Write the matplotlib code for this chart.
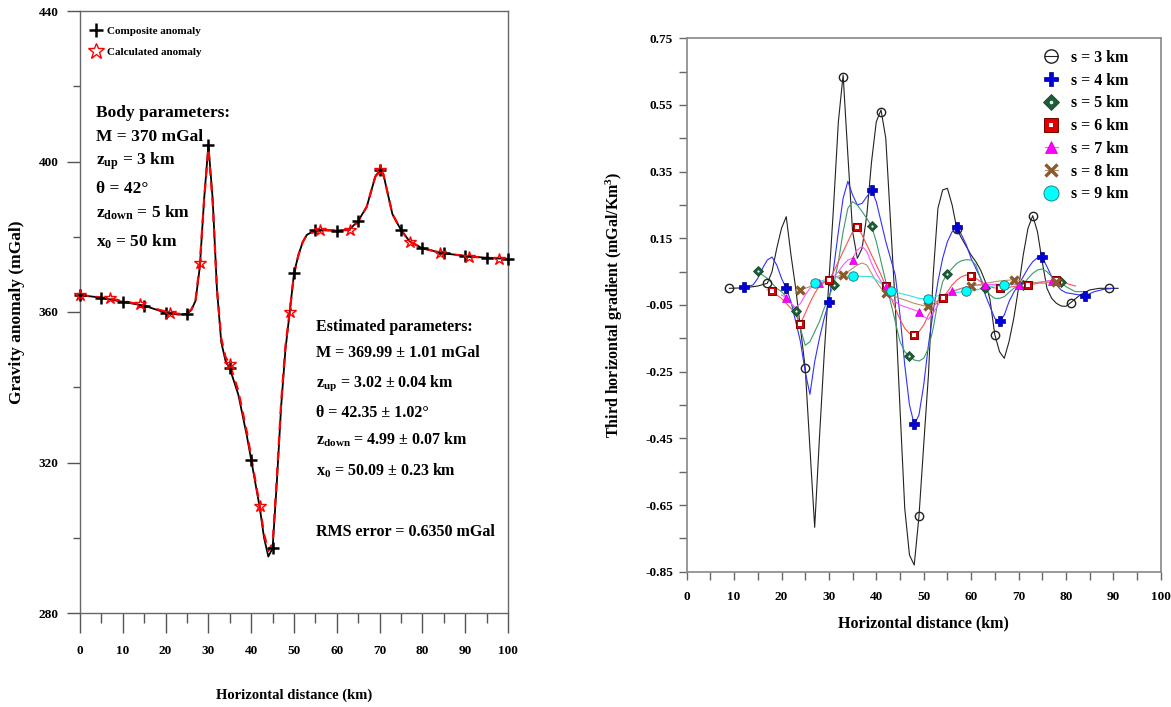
import matplotlib
matplotlib.use('Agg')
import matplotlib.pyplot as plt
from matplotlib.lines import Line2D

plt.rcParams['font.family'] = ['Liberation Serif', 'DejaVu Serif']
plt.rcParams['font.weight'] = 'bold'
plt.rcParams['mathtext.fontset'] = 'custom'
plt.rcParams['mathtext.rm'] = 'Liberation Serif:bold'
plt.rcParams['mathtext.it'] = 'Liberation Serif:bold'
plt.rcParams['mathtext.bf'] = 'Liberation Serif:bold'
plt.rcParams['axes.unicode_minus'] = False

# ---------------- left panel: gravity anomaly ----------------
comp_x = [0, 5, 10, 15, 20, 25, 30, 35, 40, 45, 50, 55, 60, 65, 70, 75, 80, 85, 90, 95, 100]
comp_y = [364.5, 363.8, 362.7, 361.7, 359.8, 359.5, 404.4, 345.0, 320.7, 297.2, 370.3,
          381.8, 381.6, 384.2, 397.7, 381.8, 376.9, 375.6, 374.9, 374.4, 374.1]
calc_x = [0, 7, 14, 21, 28, 35, 42, 49, 56, 63, 70, 77, 84, 91, 98]
calc_y = [364.5, 363.6, 362.0, 359.8, 372.9, 346.1, 308.5, 360.1, 381.8, 381.8, 397.7,
          378.7, 375.8, 374.7, 374.2]

comp_line_x = [0, 5, 10, 15, 20, 23, 25, 26, 27, 28, 29, 30, 31, 32, 33, 34, 35, 37, 39, 40,
               42, 43, 44, 45, 46, 47, 48, 49, 50, 51, 52, 53, 55, 60, 63, 65, 67, 68, 69,
               70, 71, 72, 73, 75, 77, 80, 85, 90, 95, 100]
comp_line_y = [364.5, 363.8, 362.7, 361.7, 359.8, 359.3, 359.5, 360.5, 363, 372, 390, 404.4,
               390, 366, 352, 347, 345, 338, 327, 320.7, 308, 300, 295, 297.2, 315, 335, 350,
               360, 370.3, 375, 378.5, 380.5, 381.8, 381.6, 382, 384.2, 388, 392, 396, 397.7,
               396, 391, 386, 381.8, 378.8, 376.9, 375.6, 374.9, 374.4, 374.1]
calc_line_x = [0, 7, 14, 21, 24, 26, 27, 28, 29, 30, 31, 32, 33, 34, 35, 37, 39, 40, 42, 43,
               44, 45, 46, 47, 48, 49, 50, 51, 52, 53, 56, 60, 63, 65, 67, 68, 69, 70, 71, 72,
               73, 75, 77, 80, 84, 91, 98, 100]
calc_line_y = [364.5, 363.6, 362.0, 359.8, 359.4, 360.6, 363.2, 372.9, 390, 403.5, 389, 366,
               353, 348, 346.1, 339, 328, 321.5, 308.5, 301, 296.5, 298.5, 316, 336, 351,
               360.1, 370, 375, 378.5, 380.5, 381.8, 381.7, 381.8, 384, 388, 392, 396, 397.7,
               396, 391, 386, 381.8, 378.7, 377, 375.8, 374.7, 374.2, 374.1]

body_lines = ['Body parameters:', 'M = 370 mGal', r'z$_{\rm up}$ = 3 km', 'θ = 42°',
              r'z$_{\rm down}$ = 5 km', r'x$_{\rm 0}$ = 50 km']
est_lines = ['Estimated parameters:', 'M = 369.99 ± 1.01 mGal', r'z$_{\rm up}$ = 3.02 ± 0.04 km',
             'θ = 42.35 ± 1.02°', r'z$_{\rm down}$ = 4.99 ± 0.07 km',
             r'x$_{\rm 0}$ = 50.09 ± 0.23 km', 'RMS error = 0.6350 mGal']

# ---------------- right panel: third horizontal gradient ----------------
s3_mx = [9, 17, 25, 33, 41, 49, 57, 65, 73, 81, 89]
s3_my = [0.0, 0.015, -0.238, 0.635, 0.53, -0.684, 0.178, -0.139, 0.218, -0.043, 0.0]
s3_lx = [9, 11, 13, 15, 17, 18, 19, 20, 21, 22, 23, 24, 25, 26, 27, 28, 29, 30, 31, 32, 33,
         34, 35, 36, 37, 38, 39, 40, 41, 42, 43, 44, 45, 46, 47, 48, 49, 50, 51, 52, 53, 54,
         55, 56, 57, 58, 59, 60, 61, 62, 63, 64, 65, 66, 67, 68, 69, 70, 71, 72, 73, 74, 75,
         76, 77, 78, 79, 80, 81, 83, 85, 87, 89, 91]
s3_ly = [0.0, 0.001, 0.003, 0.007, 0.015, 0.05, 0.12, 0.18, 0.215, 0.1, 0.0, -0.12, -0.238,
         -0.48, -0.717, -0.45, -0.2, 0.02, 0.25, 0.5, 0.64, 0.4, 0.17, 0.09, 0.12, 0.22, 0.38,
         0.5, 0.535, 0.45, 0.2, -0.05, -0.36, -0.66, -0.8, -0.83, -0.684, -0.47, -0.26, 0.04,
         0.24, 0.295, 0.3, 0.25, 0.178, 0.15, 0.125, 0.1, 0.08, 0.055, 0.02, -0.035, -0.139,
         -0.19, -0.21, -0.16, -0.09, 0.0, 0.1, 0.18, 0.218, 0.17, 0.08, 0.0, -0.03, -0.045,
         -0.053, -0.054, -0.043, -0.02, -0.005, 0.0, 0.0, 0.0]

s4_mx = [12, 21, 30, 39, 48, 57, 66, 75, 84]
s4_my = [0.003, 0.0, -0.04, 0.294, -0.408, 0.184, -0.099, 0.094, -0.022]
s4_lx = [12, 14, 15, 16, 17, 18, 19, 20, 21, 22, 23, 24, 25, 26, 27, 28, 29, 30, 31, 32, 33,
         34, 35, 36, 37, 38, 39, 40, 41, 42, 43, 44, 45, 46, 47, 48, 49, 50, 51, 52, 53, 54,
         55, 56, 57, 58, 59, 60, 61, 62, 63, 64, 65, 66, 67, 68, 69, 70, 71, 72, 73, 74, 75,
         76, 77, 78, 79, 80, 82, 84, 86, 88, 90]
s4_ly = [0.003, 0.01, 0.03, 0.06, 0.085, 0.094, 0.07, 0.03, 0.0, -0.04, -0.1, -0.16, -0.25,
         -0.318, -0.22, -0.15, -0.09, -0.04, 0.06, 0.17, 0.27, 0.321, 0.28, 0.25, 0.255, 0.275,
         0.294, 0.26, 0.2, 0.14, 0.09, 0.04, -0.08, -0.23, -0.35, -0.408, -0.38, -0.29, -0.17,
         -0.07, 0.02, 0.09, 0.14, 0.17, 0.184, 0.16, 0.13, 0.09, 0.06, 0.03, -0.02, -0.055,
         -0.09, -0.099, -0.08, -0.04, -0.012, 0.01, 0.035, 0.06, 0.08, 0.092, 0.094, 0.065,
         0.035, 0.01, -0.005, -0.013, -0.018, -0.022, -0.01, -0.003, 0.0]

s5_mx = [15, 23, 31, 39, 47, 55, 63, 71, 79]
s5_my = [0.051, -0.067, 0.009, 0.186, -0.203, 0.044, 0.002, 0.01, 0.018]
s5_lx = [15, 16, 17, 18, 19, 20, 21, 22, 23, 24, 25, 26, 27, 28, 29, 30, 31, 32, 33, 34, 35,
         36, 37, 38, 39, 40, 41, 42, 43, 44, 45, 46, 47, 48, 49, 50, 51, 52, 53, 54, 55, 56,
         57, 58, 59, 60, 61, 62, 63, 64, 65, 66, 67, 68, 69, 70, 71, 72, 73, 74, 75, 76, 77,
         78, 79, 80, 82, 84]
s5_ly = [0.05, 0.04, 0.03, 0.015, 0.0, -0.01, -0.025, -0.045, -0.067, -0.12, -0.171, -0.16,
         -0.13, -0.1, -0.06, -0.025, 0.009, 0.08, 0.17, 0.24, 0.26, 0.25, 0.23, 0.21, 0.186,
         0.14, 0.08, 0.02, -0.04, -0.1, -0.16, -0.19, -0.203, -0.215, -0.218, -0.21, -0.18,
         -0.12, -0.04, 0.02, 0.044, 0.06, 0.075, 0.083, 0.086, 0.085, 0.07, 0.03, 0.002,
         -0.02, -0.03, -0.03, -0.025, -0.012, 0.0, 0.008, 0.01, 0.03, 0.045, 0.055, 0.058,
         0.05, 0.035, 0.02, 0.018, 0.005, -0.01, -0.01]

s6_mx = [18, 24, 30, 36, 42, 48, 54, 60, 66, 72, 78]
s6_my = [-0.009, -0.106, 0.024, 0.184, 0.007, -0.14, -0.029, 0.036, 0.0, 0.01, 0.024]
s6_lx = [17, 18, 19, 20, 21, 22, 23, 24, 25, 26, 27, 28, 29, 30, 31, 32, 33, 34, 35, 36, 37,
         38, 39, 40, 41, 42, 43, 44, 45, 46, 47, 48, 49, 50, 51, 52, 53, 54, 55, 56, 57, 58,
         59, 60, 61, 62, 63, 64, 65, 66, 68, 70, 72, 74, 76, 78, 80, 82]
s6_ly = [-0.005, -0.009, -0.02, -0.03, -0.045, -0.06, -0.08, -0.106, -0.075, -0.043, -0.015,
         0.007, 0.017, 0.024, 0.05, 0.08, 0.11, 0.14, 0.17, 0.184, 0.16, 0.13, 0.1, 0.07, 0.04,
         0.007, -0.025, -0.06, -0.093, -0.12, -0.135, -0.14, -0.13, -0.11, -0.08, -0.055,
         -0.04, -0.029, -0.01, 0.01, 0.025, 0.035, 0.04, 0.036, 0.03, 0.02, 0.012, 0.005,
         0.001, 0.0, 0.003, 0.008, 0.01, 0.015, 0.022, 0.024, 0.015, 0.007]

s7_mx = [21, 28, 35, 42, 49, 56, 63, 70, 77]
s7_my = [-0.028, 0.016, 0.086, 0.005, -0.07, -0.009, 0.011, 0.011, 0.023]
s7_lx = [20, 21, 22, 23, 24, 25, 26, 27, 28, 29, 30, 31, 32, 33, 34, 35, 36, 37, 38, 39, 40,
         41, 42, 43, 44, 45, 46, 47, 48, 49, 50, 51, 52, 53, 54, 55, 56, 58, 60, 63, 65, 68,
         70, 72, 74, 77, 79, 80]
s7_ly = [-0.02, -0.028, -0.045, -0.058, -0.045, -0.02, 0.0, 0.01, 0.016, 0.02, 0.025, 0.035,
         0.05, 0.07, 0.085, 0.09, 0.115, 0.126, 0.11, 0.075, 0.045, 0.02, 0.005, -0.03,
         -0.04, -0.05, -0.055, -0.06, -0.065, -0.07, -0.085, -0.093, -0.075, -0.05, -0.03,
         -0.015, -0.009, 0.0, 0.008, 0.011, 0.012, 0.012, 0.011, 0.012, 0.018, 0.023, 0.02,
         0.015]

s8_mx = [24, 33, 42, 51, 60, 69, 78]
s8_my = [-0.005, 0.041, -0.014, -0.054, 0.006, 0.026, 0.02]
s8_lx = [24, 26, 28, 30, 32, 33, 34, 35, 36, 37, 38, 39, 40, 41, 42, 44, 46, 48, 50, 51, 52,
         54, 56, 58, 60, 63, 66, 69, 72, 75, 78, 80]
s8_ly = [-0.005, 0.005, 0.015, 0.025, 0.037, 0.041, 0.05, 0.06, 0.07, 0.076, 0.07, 0.045,
         0.02, 0.0, -0.014, -0.025, -0.035, -0.045, -0.052, -0.054, -0.045, -0.028, -0.01,
         0.0, 0.006, 0.015, 0.022, 0.026, 0.02, 0.015, 0.02, 0.015]

s9_mx = [27, 35, 43, 51, 59, 67]
s9_my = [0.016, 0.038, -0.007, -0.033, -0.009, 0.011]
s9_lx = [27, 29, 31, 33, 35, 37, 39, 41, 43, 45, 47, 49, 51, 53, 55, 57, 59, 61, 63, 65, 67,
         69, 70]
s9_ly = [0.016, 0.025, 0.03, 0.035, 0.038, 0.036, 0.035, 0.015, -0.007, -0.015, -0.022,
         -0.03, -0.033, -0.022, -0.016, -0.012, -0.009, -0.005, 0.002, 0.008, 0.011, 0.013,
         0.014]

s_labels = ['s = 3 km', 's = 4 km', 's = 5 km', 's = 6 km', 's = 7 km', 's = 8 km', 's = 9 km']

W, H = 1171.0, 707.0
fig = plt.figure(figsize=(W / 100, H / 100), dpi=100)


def axes_px(x0, y0, x1, y1):
    return fig.add_axes([x0 / W, 1 - y1 / H, (x1 - x0) / W, (y1 - y0) / H])


# ================= left =================
ax1 = axes_px(80, 11, 508, 613)
ax1.plot(comp_line_x, comp_line_y, color='black', lw=1.3, zorder=2)
ax1.plot(calc_line_x, calc_line_y, color='red', lw=1.6, ls=(0, (4, 3)), zorder=3)
ax1.plot(comp_x, comp_y, ls='none', marker='+', ms=8, mew=1.8, color='black',
         clip_on=False, zorder=4, label='Composite anomaly')
ax1.plot(calc_x, calc_y, ls='none', marker='*', ms=9, mfc='none', mec='red', mew=1.0,
         clip_on=False, zorder=5, label='Calculated anomaly')
ax1.set_xlim(0, 100)
ax1.set_ylim(280, 440)
ax1.set_xticks(range(0, 101, 10))
ax1.set_xticks(range(5, 100, 10), minor=True)
ax1.set_yticks([280, 320, 360, 400, 440])
ax1.set_yticks([300, 340, 380, 420], minor=True)
ax1.tick_params(axis='x', which='major', length=14.4, width=1, color='#555555', pad=9,
                labelsize=9.5)
ax1.tick_params(axis='x', which='minor', length=7.2, width=1, color='#555555')
ax1.tick_params(axis='y', which='major', length=9.4, width=1, color='#555555', pad=6,
                labelsize=9.5)
ax1.tick_params(axis='y', which='minor', length=5, width=1, color='#555555')
for sp in ax1.spines.values():
    sp.set_color('#666666')
    sp.set_linewidth(1)

ax1.legend(loc='upper left', bbox_to_anchor=(90 / W, 1 - 26 / H), bbox_transform=fig.transFigure,
           frameon=False, fontsize=8, handlelength=1.1, handletextpad=0.45, labelspacing=1.0,
           borderpad=0, borderaxespad=0, markerscale=1.3)

body_base = [411.8, 405.4, 399.1, 391.6, 385.2, 377.5]
for txt, yb in zip(body_lines, body_base):
    ax1.text(3.7, yb, txt, fontsize=12.5, va='baseline', ha='left')
est_base = [355.0, 348.0, 340.3, 332.2, 324.8, 316.4, 300.4]
for txt, yb in zip(est_lines, est_base):
    ax1.text(55.1, yb, txt, fontsize=11.5, va='baseline', ha='left')

fig.text(294 / W, 1 - 695 / H, 'Horizontal distance (km)', fontsize=10.5, ha='center',
         va='center')
fig.text(17 / W, 1 - 312 / H, 'Gravity anomaly (mGal)', fontsize=12.5, ha='center',
         va='center', rotation=90)

# ================= right =================
ax2 = axes_px(686.7, 38.3, 1160.7, 571.7)

# each series: line data, marker data, line colour, marker styles (drawn in order)
series = [
    (s3_lx, s3_ly, s3_mx, s3_my, '#222222',
     [dict(marker='o', ms=6, mfc='none', mec='#222222', mew=1.0)]),
    (s4_lx, s4_ly, s4_mx, s4_my, '#3030ff',
     [dict(marker='P', ms=6.5, mfc='#0000dd', mec='#000080', mew=0.5)]),
    (s5_lx, s5_ly, s5_mx, s5_my, '#3a9a6a',
     [dict(marker='D', ms=4.8, mfc='#1d5e36', mec='#164a2a', mew=0.6),
      dict(marker='o', ms=1.6, mfc='white', mec='white', mew=0)]),
    (s6_lx, s6_ly, s6_mx, s6_my, '#ff5050',
     [dict(marker='s', ms=6.0, mfc='#dd0000', mec='#7a0000', mew=0.7),
      dict(marker='s', ms=2.2, mfc='white', mec='white', mew=0)]),
    (s7_lx, s7_ly, s7_mx, s7_my, '#ff55ff',
     [dict(marker='^', ms=5.8, mfc='#ff00ff', mec='#cc00cc', mew=0.5)]),
    (s8_lx, s8_ly, s8_mx, s8_my, '#b8916a',
     [dict(marker='x', ms=5.5, mec='#8b5a2b', mew=2.4)]),
    (s9_lx, s9_ly, s9_mx, s9_my, '#33e0e0',
     [dict(marker='o', ms=6.8, mfc='#00ffff', mec='#207070', mew=0.6)]),
]

handles = []
for i, (lx, ly, mx, my, lc, mks) in enumerate(series):
    ax2.plot(lx, ly, color=lc, lw=0.8, zorder=2 + i * 0.01)
    parts = []
    for j, mk in enumerate(mks):
        ax2.plot(mx, my, ls='none', zorder=4 + i * 0.01 + j * 0.001, **mk)
        if j == 0:
            parts.append(Line2D([], [], color=lc, lw=0.8, **mk))
        else:
            parts.append(Line2D([], [], ls='none', **mk))
    handles.append(tuple(parts) if len(parts) > 1 else parts[0])

ax2.set_xlim(0, 100)
ax2.set_ylim(-0.85, 0.75)
ax2.set_xticks(range(0, 101, 10))
ax2.set_xticks(range(5, 100, 10), minor=True)
ax2.set_yticks([0.75, 0.55, 0.35, 0.15, -0.05, -0.25, -0.45, -0.65, -0.85])
ax2.set_yticks([0.65, 0.45, 0.25, 0.05, -0.15, -0.35, -0.55, -0.75], minor=True)
ax2.set_yticklabels(['0.75', '0.55', '0.35', '0.15', '-0.05', '-0.25', '-0.45', '-0.65', '-0.85'])
ax2.tick_params(axis='both', which='both', length=5.8, width=1, color='#666666')
ax2.tick_params(axis='x', which='major', pad=8, labelsize=9.5)
ax2.tick_params(axis='y', which='major', pad=4, labelsize=9.5)
for sp in ax2.spines.values():
    sp.set_color('#888888')
    sp.set_linewidth(1.2)

ax2.legend(handles, s_labels, loc='upper left', bbox_to_anchor=(1045 / W, 1 - 50 / H),
           bbox_transform=fig.transFigure, frameon=False, fontsize=11.5, handlelength=0.8,
           handletextpad=0.85, labelspacing=0.42, borderpad=0, borderaxespad=0,
           markerscale=1.6)

fig.text(923.7 / W, 1 - 623 / H, 'Horizontal distance (km)', fontsize=11.5, ha='center',
         va='center')
fig.text(614.6 / W, 1 - 305 / H, 'Third horizontal gradient (mGal/Km$^{\\rm 3}$)',
         fontsize=11.5, ha='center', va='center', rotation=90)

fig.savefig('out.png', dpi=100)
